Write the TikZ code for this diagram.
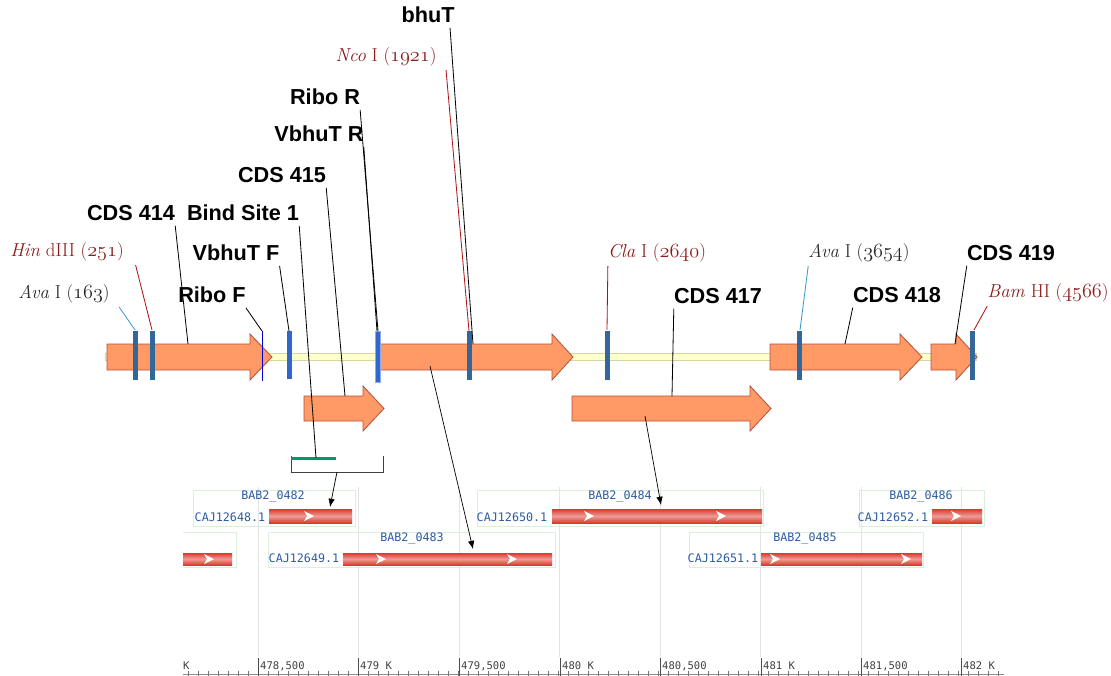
\documentclass[tikz,border=0pt]{standalone}
\usepackage{fontspec}
\newfontfamily\tagfont{Liberation Sans}
\newfontfamily\gbfont{DejaVu Sans Mono}
\usetikzlibrary{arrows.meta,positioning}

\definecolor{genefill}{HTML}{FF9966}
\definecolor{genedraw}{HTML}{B5503C}
\definecolor{bbfill}{HTML}{FFFFCC}
\definecolor{bbdraw}{HTML}{D6D6A0}
\definecolor{sitecol}{HTML}{336699}
\definecolor{primcol}{HTML}{3366CC}
\definecolor{enzred}{HTML}{8B1A1A}
\definecolor{leadred}{HTML}{B01010}
\definecolor{leadblue}{HTML}{3399CC}
\definecolor{bindgreen}{HTML}{009966}
\definecolor{gbblue}{HTML}{2B5BA0}
\definecolor{gbbox}{HTML}{DDEEDD}
\definecolor{gridcol}{HTML}{E4E4E4}
\definecolor{barred}{HTML}{D93A2E}

% old style figures for the enzyme positions
\newcommand{\osn}[1]{$\mathnormal{#1}$}

\begin{document}
\begin{tikzpicture}[x=0.03cm, y=-0.03cm,
  every node/.style={inner sep=0pt},
  tag/.style={font=\tagfont\bfseries\fontsize{18.5}{20}\selectfont,
              inner ysep=4pt},
  enz/.style={font=\fontsize{16}{18}\selectfont, text=enzred,
              inner ysep=3pt},
  ava/.style={enz, text=black!85},
  lead/.style={line width=0.7pt, black},
  gene/.style={fill=genefill, draw=genedraw, line width=0.7pt},
  site/.style={fill=sitecol},
  gbtxt/.style={font=\gbfont\fontsize{10}{12}\selectfont, text=gbblue},
  gbframe/.style={draw=gbbox, line width=0.6pt},
  gbbar/.style={top color=barred, bottom color=barred,
                middle color=barred!50!white},
  chev/.style={fill=white},
  ptr/.style={-{Latex[length=7pt,width=5.5pt]}, line width=0.6pt},
  ruler/.style={font=\gbfont\fontsize{9}{10}\selectfont, text=black!75}
]
\useasboundingbox (0,0) rectangle (1111,676);

% grid of the genome browser
\foreach \gx in {258,358,459,559,660,760,861,961}
  \draw[gridcol, line width=0.6pt] (\gx,487) -- (\gx,657);

% backbone
\draw[fill=bbfill, draw=bbdraw, line width=0.6pt] (105,353) rectangle (976,360);

% genes, main row
\draw[gene] (107,344) -- (250,344) -- (250,334) -- (272,357)
  -- (250,380) -- (250,370) -- (107,370) -- cycle;
\draw[gene] (378,344) -- (552,344) -- (552,334) -- (573,357)
  -- (552,380) -- (552,370) -- (378,370) -- cycle;
\draw[gene] (770,344) -- (900,344) -- (900,334) -- (922,357)
  -- (900,380) -- (900,370) -- (770,370) -- cycle;
\draw[gene] (931,344) -- (956,344) -- (956,334) -- (977,357)
  -- (956,380) -- (956,370) -- (931,370) -- cycle;
% genes, second row
\draw[gene] (304,396) -- (363,396) -- (363,386) -- (384,408.5)
  -- (363,431) -- (363,421) -- (304,421) -- cycle;
\draw[gene] (572,396) -- (750,396) -- (750,386) -- (771,408.5)
  -- (750,431) -- (750,421) -- (572,421) -- cycle;

% restriction sites and primers
\foreach \sx in {135,152,469,607,799,972}
  \fill[site] (\sx-2.5,331) rectangle (\sx+2.5,380);
\fill[primcol] (286.5,331) rectangle (291.5,379);
\draw[fill=primcol, draw=primcol!55!white, line width=0.6pt]
  (375,331) rectangle (380,382);
\draw[blue!85!black, line width=0.8pt] (262,331) -- (262,381);

% binding site and its bracket
\draw[black!75, line width=0.8pt] (291,456) -- (291,472) -- (383,472) -- (383,456);
\fill[bindgreen] (291,456.5) rectangle (336,460);

% targets of the leaders
\coordinate (t163) at (135,330);
\coordinate (t251) at (152,330);
\coordinate (t414) at (188,344);
\coordinate (tbind) at (316,458);
\coordinate (t415) at (345,396);
\coordinate (tvf) at (289,331);
\coordinate (trf) at (262,331);
\coordinate (tvr) at (377,331);
\coordinate (trr) at (378,331);
\coordinate (t1921) at (469,331);
\coordinate (tbhu) at (473,344);
\coordinate (t2640) at (607,330);
\coordinate (t417) at (672,396);
\coordinate (t3654) at (800,330);
\coordinate (t418) at (845,344);
\coordinate (t419) at (955,344);
\coordinate (t4566) at (974,330);

% labels
\node[ava] (a163) at (64,294) {\textit{Ava} I (\osn{163})};
\node[enz] (h251) at (67,252) {\textit{Hin} dIII (\osn{251})};
\node[tag] (c414) at (131,213) {CDS 414};
\node[tag] (bind) at (243,213) {Bind Site 1};
\node[tag] (c415) at (282,175) {CDS 415};
\node[tag] (vbf) at (236,253) {VbhuT F};
\node[tag] (rbf) at (212,295) {Ribo F};
\node[tag] (vbr) at (319,134) {VbhuT R};
\node[tag] (rbr) at (325,97) {Ribo R};
\node[enz] (n1921) at (386,57) {\textit{Nco} I (\osn{1921})};
\node[tag] (bhu) at (428,15) {bhuT};
\node[enz] (c2640) at (657,253) {\textit{Cla} I (\osn{2640})};
\node[tag] (c417) at (718,296) {CDS 417};
\node[ava] (a3654) at (859,253) {\textit{Ava} I (\osn{3654})};
\node[tag] (c418) at (897,295) {CDS 418};
\node[tag] (c419) at (1011,253) {CDS 419};
\node[enz] (b4566) at (1048,293) {\textit{Bam} HI (\osn{4566})};

% leaders
\draw[lead, leadblue] ([xshift=8pt]a163.south east) -- (t163);
\draw[lead, leadred] ([xshift=10pt]h251.south east) -- (t251);
\draw[lead] (c414.south east) -- (t414);
\draw[lead] (bind.south east) -- (tbind);
\draw[lead] (c415.south east) -- (t415);
\draw[lead] (vbf.south east) -- (tvf);
\draw[lead] (rbf.south east) -- (trf);
\draw[lead] (vbr.south east) -- (tvr);
\draw[lead] (rbr.south east) -- (trr);
\draw[lead, leadred] ([xshift=8pt]n1921.south east) -- (t1921);
\draw[lead] ([xshift=-4pt]bhu.south east) -- (tbhu);
\draw[lead, leadred] (c2640.south west) -- (t2640);
\draw[lead] (c417.south west) -- (t417);
\draw[lead, leadblue] (a3654.south west) -- (t3654);
\draw[lead] (c418.south west) -- (t418);
\draw[lead] (c419.south west) -- (t419);
\draw[lead, leadred] (b4566.south west) -- (t4566);

% genbank features
\draw[gbframe] (193,490) rectangle (355,526);
\draw[gbframe] (183,532) -- (236,532) -- (236,567) -- (183,567);
\draw[gbframe] (268,532) rectangle (555,567);
\draw[gbframe] (477,490) rectangle (763,526);
\draw[gbframe] (689,532) rectangle (923,567);
\draw[gbframe] (859,490) rectangle (984,526);

\shade[gbbar] (269,509) rectangle (352,523);
\shade[gbbar] (183,553) rectangle (232,565);
\shade[gbbar] (343,553) rectangle (552,565);
\shade[gbbar] (552,509) rectangle (762,523);
\shade[gbbar] (761,553) rectangle (922,565);
\shade[gbbar] (932,509) rectangle (982,523);

\foreach \cx/\cy in {310/516, 210/559, 382/559, 513/559, 590/516, 722/516,
                     776/559, 907/559, 957/516}
  \fill[chev] (\cx-6,\cy-5) -- (\cx+4,\cy) -- (\cx-6,\cy+5) -- (\cx-3,\cy) -- cycle;

\node[gbtxt] (n482) at (273,497) {BAB2\_0482};
\node[gbtxt] (p482) at (230,517) {CAJ12648.1};
\node[gbtxt] (n483) at (412,539) {BAB2\_0483};
\node[gbtxt] (p483) at (304,558) {CAJ12649.1};
\node[gbtxt] (n484) at (620,497) {BAB2\_0484};
\node[gbtxt] (p484) at (512,517) {CAJ12650.1};
\node[gbtxt] (n485) at (805,539) {BAB2\_0485};
\node[gbtxt] (p485) at (723,558) {CAJ12651.1};
\node[gbtxt] (n486) at (921,497) {BAB2\_0486};
\node[gbtxt] (p486) at (893,517) {CAJ12652.1};

% pointers from the map to the features
\coordinate (brk) at (337,472);
\coordinate (g416) at (430,366);
\coordinate (g417) at (645,416);
\coordinate (f482) at (330,507);
\coordinate (f483) at (473,549);
\coordinate (f484) at (661,505);
\draw[ptr] (brk) -- (f482);
\draw[ptr] (g416) -- (f483);
\draw[ptr] (g417) -- (f484);

% ruler
\draw[black!45, line width=0.5pt] (183,674) -- (1004,674);
\foreach \tx in {188,198,...,1000}
  \draw[black!55, line width=0.5pt] (\tx,671) -- (\tx,676);
\node[ruler, anchor=west] (k0) at (183,666) {K};
\foreach \tx/\tl in {258/{478,500}, 358/{479 K}, 459/{479,500}, 560/{480 K},
                     660/{480,500}, 761/{481 K}, 861/{481,500}, 961/{482 K}}
{
  \draw[black!70, line width=0.6pt] (\tx,658) -- (\tx,676);
  \node[ruler, anchor=west] at (\tx+2,666) {\tl};
}
\end{tikzpicture}
\end{document}
